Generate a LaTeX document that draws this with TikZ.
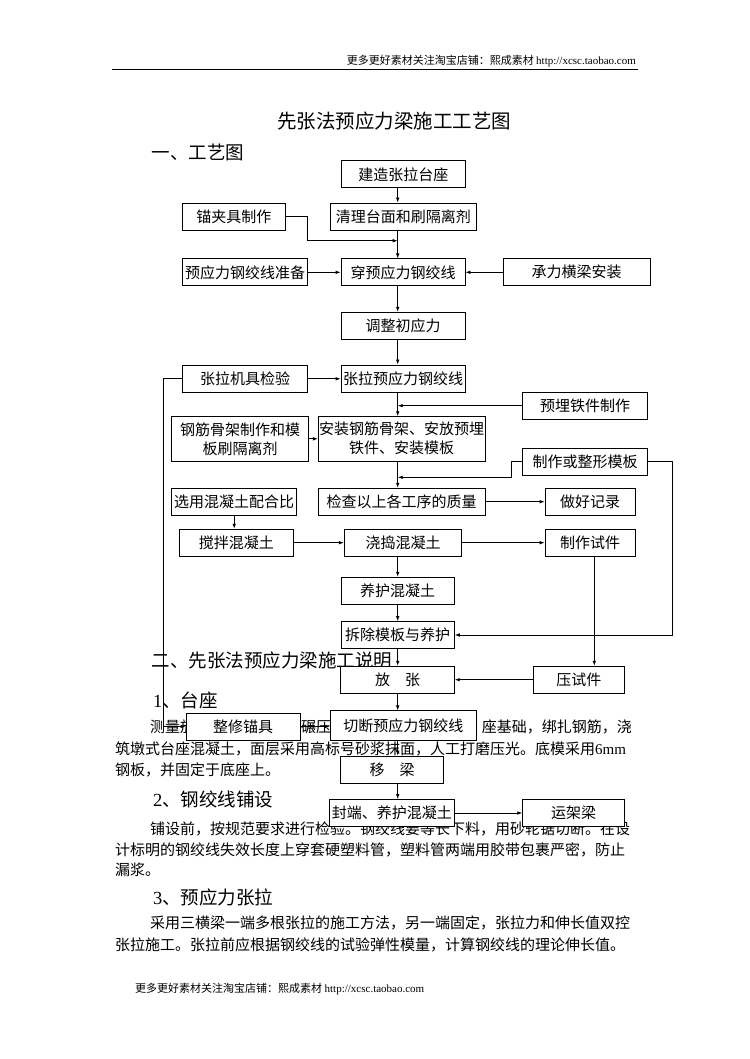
\documentclass[tikz,border=0pt]{standalone}
\usepackage{fontspec}
\setmainfont{Noto Sans CJK SC}
\newfontfamily\lat{Liberation Serif}
\usetikzlibrary{arrows.meta}

\begin{document}
\begin{tikzpicture}[
    x=1pt, y=-1pt,
    box/.style={draw, fill=white, line width=0.8pt, inner sep=0pt, minimum height=27pt, align=center, font=\fontsize{15}{19}\selectfont},
    arr/.style={line width=0.8pt, -{Latex[length=5pt,width=3.6pt]}},
    txt/.style={anchor=west, inner sep=0pt, font=\fontsize{15}{18}\selectfont},
    head/.style={anchor=west, inner sep=0pt, font=\fontsize{18.5}{22}\selectfont},
    note/.style={inner sep=0pt, font=\fontsize{11}{13}\selectfont}
  ]
    \useasboundingbox (0,0) rectangle (749,1059);
    \fill[white] (0,0) rectangle (749,1059);

    % Page head
    \node[note, anchor=east] (hdr) at (636,61) {更多更好素材关注淘宝店铺：熙成素材\ {\lat http://xcsc.taobao.com}};
    \draw[line width=1pt] (112,70) -- (638,70);
    \node[inner sep=0pt, font=\fontsize{19.5}{23}\selectfont] (title) at (394,121) {先张法预应力梁施工工艺图};
    \node[head] (sec1) at (151.7,152) {一、工艺图};

    % Notes under the chart
    \node[head] (sec2) at (151.7,660) {二、先张法预应力梁施工说明};
    \node[head] (sub1) at (153,700) {{\lat 1}、台座};
    \node[txt] (p1a) at (150,727) {测量放};
    \node[txt] (p1b) at (301,727) {碾压};
    \node[txt, anchor=east] (p1c) at (632,727) {座基础，绑扎钢筋，浇};
    \node[txt] (p1d) at (115,749) {筑墩式台座混凝土，面层采用高标号砂浆抹面，人工打磨压光。底模采用{\lat 6mm}};
    \node[txt] (p1e) at (115,770) {钢板，并固定于底座上。};
    \node[head] (sub2) at (153,799) {{\lat 2}、钢绞线铺设};
    \node[txt] (p2a) at (150,829) {铺设前，按规范要求进行检验。钢绞线要等长下料，用砂轮锯切断。在设};
    \node[txt] (p2b) at (115,850) {计标明的钢绞线失效长度上穿套硬塑料管，塑料管两端用胶带包裹严密，防止};
    \node[txt] (p2c) at (115,870) {漏浆。};
    \node[head] (sub3) at (153,897) {{\lat 3}、预应力张拉};
    \node[txt] (p3a) at (150,923) {采用三横梁一端多根张拉的施工方法，另一端固定，张拉力和伸长值双控};
    \node[txt] (p3b) at (115,945) {张拉施工。张拉前应根据钢绞线的试验弹性模量，计算钢绞线的理论伸长值。};
    \node[note, anchor=west] (ftr) at (135,989) {更多更好素材关注淘宝店铺：熙成素材\ {\lat http://xcsc.taobao.com}};

    % Main chain
    \node[box, minimum width=123.3pt] (jz) at (403.3,174.3) {建造张拉台座};
    \node[box, minimum width=146.7pt] (qlt) at (403.3,216.5) {清理台面和刷隔离剂};
    \node[box, minimum width=124pt] (cgjx) at (403,272.3) {穿预应力钢绞线};
    \node[box, minimum width=124pt] (tzcy) at (403,325.7) {调整初应力};
    \node[box, minimum width=124pt, minimum height=27.7pt] (zlyl) at (403,378.8) {张拉预应力钢绞线};
    \node[box, minimum width=166.7pt, minimum height=44.3pt] (azgj) at (401.7,438.8) {安装钢筋骨架、安放预埋\\铁件、安装模板};
    \node[box, minimum width=166.7pt] (jcgx) at (401.7,501.7) {检查以上各工序的质量};
    \node[box, minimum width=117.4pt] (jdh) at (403,542.7) {浇捣混凝土};
    \node[box, minimum width=113.3pt] (yhh) at (397.7,590.7) {养护混凝土};
    \node[box, minimum width=113.3pt] (ccmb) at (397.7,635) {拆除模板与养护};
    \node[box, minimum width=113.6pt] (fz) at (397.5,679.7) {放　张};
    \node[box, minimum width=146.7pt, minimum height=29.3pt] (qdyl) at (403.3,725.5) {切断预应力钢绞线};
    \node[box, minimum width=102.3pt] (yl) at (392,769.5) {移　梁};
    \node[box, minimum width=125pt] (fdyh) at (391.8,813) {封端、养护混凝土};

    % Left branch
    \node[box, minimum width=102.3pt] (mjj) at (233.8,216.5) {锚夹具制作};
    \node[box, minimum width=124.6pt] (yzb) at (245,272.3) {预应力钢绞线准备};
    \node[box, minimum width=124.6pt, minimum height=27.7pt] (jjjy) at (245,378.8) {张拉机具检验};
    \node[box, minimum width=136.6pt, minimum height=44.3pt] (gjgj) at (240,438.8) {钢筋骨架制作和模\\板刷隔离剂};
    \node[box, minimum width=125pt] (xyph) at (234.2,501.7) {选用混凝土配合比};
    \node[box, minimum width=114pt] (jbh) at (236.3,542.7) {搅拌混凝土};
    \node[box, minimum width=114pt] (zxmj) at (243,726.5) {整修锚具};

    % Right branch
    \node[box, minimum width=146.7pt] (clhl) at (576.7,272.3) {承力横梁安装};
    \node[box, minimum width=125.4pt] (ymtj) at (585,405.7) {预埋铁件制作};
    \node[box, minimum width=125.4pt] (zzmb) at (585,461.5) {制作或整形模板};
    \node[box, minimum width=90pt] (zhjl) at (590,501.7) {做好记录};
    \node[box, minimum width=90pt] (zzsj) at (590,542.7) {制作试件};
    \node[box, minimum width=91pt] (yasj) at (578.8,679.7) {压试件};
    \node[box, minimum width=101.6pt] (yjl) at (573.5,812.7) {运架梁};

    % Line positions
    \coordinate (spine) at (397.7,0);
    \coordinate (lft) at (163.3,0);
    \coordinate (rgt) at (672,0);
    \coordinate (sjx) at (594.3,0);
    \coordinate (mjjin) at (397.7,240.7);
    \coordinate (mbin) at (397.7,477.3);

    % Arrows main chain
    \draw[arr] (jz.south -| spine) -- (qlt.north -| spine);
    \draw[arr] (qlt.south -| spine) -- (cgjx.north -| spine);
    \draw[arr] (cgjx.south -| spine) -- (tzcy.north -| spine);
    \draw[arr] (tzcy.south -| spine) -- (zlyl.north -| spine);
    \draw[arr] (zlyl.south -| spine) -- (azgj.north -| spine);
    \draw[arr] (azgj.south -| spine) -- (jcgx.north -| spine);
    \draw[arr] (jdh.south -| spine) -- (yhh.north -| spine);
    \draw[arr] (yhh.south -| spine) -- (ccmb.north -| spine);
    \draw[arr] (ccmb.south -| spine) -- (fz.north -| spine);
    \draw[arr] (fz.south -| spine) -- (qdyl.north -| spine);
    \draw[arr] (qdyl.south -| spine) -- (yl.north -| spine);
    \draw[arr] (yl.south -| spine) -- (fdyh.north -| spine);

    % Side arrows
    \draw[arr] (mjj.east) -- ++(21.7,0) |- (mjjin);
    \draw[arr] (yzb) -- (cgjx);
    \draw[arr] (clhl) -- (cgjx);
    \draw[arr] (jjjy) -- (zlyl);
    \draw[arr] (ymtj.west) -- (ymtj.west -| spine);
    \draw[arr] (gjgj) -- (azgj);
    \draw[arr] (zzmb.west) -- ++(-10.6,0) |- (mbin);
    \draw[arr] (jcgx) -- (zhjl);
    \draw[arr] (xyph.south) -- (xyph.south |- jbh.north);
    \draw[arr] (jbh) -- (jdh);
    \draw[arr] (jdh) -- (zzsj);
    \draw[arr] (zzsj.south -| sjx) -- (yasj.north -| sjx);
    \draw[arr] (yasj) -- (fz);
    % long return lines round the chart
    \draw[arr] (jjjy.west) -- (jjjy.west -| lft) |- (zxmj.west);
    \draw[arr] (zzmb.east) -- (zzmb.east -| rgt) |- (ccmb.east);
    \draw[arr] (zxmj.east) -- (zxmj.east -| qdyl.west);
    \draw[arr] (fdyh.east) -- (fdyh.east -| yjl.west);
  \end{tikzpicture}
\end{document}
